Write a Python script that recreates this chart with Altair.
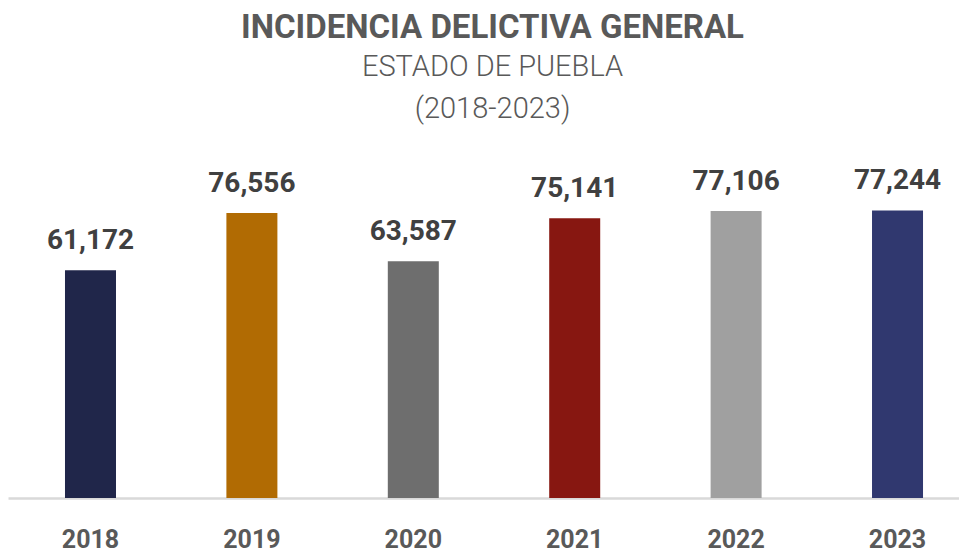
import altair as alt
import pandas as pd

years = ["2018", "2019", "2020", "2021", "2022", "2023"]
values = [61172, 76556, 63587, 75141, 77106, 77244]
colors = ["#20264a", "#b16b03", "#6e6e6e", "#871711", "#a0a0a0", "#30386f"]
labels = ["61,172", "76,556", "63,587", "75,141", "77,106", "77,244"]

df = pd.DataFrame({"year": years, "value": values, "color": colors, "label": labels})

x = alt.X("year:N", sort=years, title=None,
          scale=alt.Scale(paddingInner=0.684, paddingOuter=0.288, align=0.613),
          axis=alt.Axis(labelAngle=0, ticks=False, domainColor="#d9d9d9", domainWidth=2.5,
                        labelFont="Roboto", labelFontWeight="bold", labelFontSize=25,
                        labelColor="#595959", labelPadding=49, labelBaseline="alphabetic",
                        grid=False))
y = alt.Y("value:Q", title=None, scale=alt.Scale(domain=[0, 90000], nice=False, zero=True), axis=None)

bars = alt.Chart(df).mark_bar().encode(
    x=x, y=y, color=alt.Color("color:N", scale=None)
)
text = alt.Chart(df).mark_text(baseline="alphabetic", dy=-21, font="Roboto", fontWeight="bold",
                               fontSize=28, color="#404040").encode(
    x=x, y=y, text="label:N"
)

chart = alt.layer(bars, text).properties(
    width=951, height=335,
    background="white",
    title=alt.TitleParams(
        text="INCIDENCIA DELICTIVA GENERAL",
        subtitle=["ESTADO DE PUEBLA", "(2018-2023)"],
        anchor="middle", dx=9,
        font="Roboto", fontSize=33, fontWeight="bold", color="#595959",
        subtitleFont="Roboto", subtitleFontSize=29, subtitleFontWeight=300,
        subtitleColor="#595959", subtitleLineHeight=42, subtitlePadding=8,
        offset=39,
    ),
    autosize=alt.AutoSizeParams(type="none"),
    padding={"left": 0, "right": 0, "top": 155, "bottom": 56},
).configure_view(stroke="transparent", strokeWidth=0).configure_axis(grid=False)

chart.save("out.html", embed_options={"renderer": "svg", "actions": False})
